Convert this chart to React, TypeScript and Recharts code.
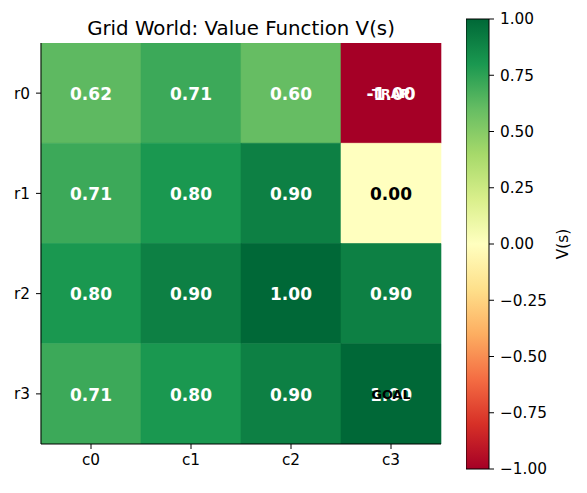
import { BarChart, Bar, XAxis, YAxis, Cell, LabelList } from "recharts";

const COLS = ["c0", "c1", "c2", "c3"];
const ROWS = ["r0", "r1", "r2", "r3"];

// value function per row (left to right = c0..c3)
const V_R0 = [0.62, 0.71, 0.6, -1.0];
const V_R1 = [0.71, 0.8, 0.9, 0.0];
const V_R2 = [0.8, 0.9, 1.0, 0.9];
const V_R3 = [0.71, 0.8, 0.9, 1.0];
const VALUES = [V_R0, V_R1, V_R2, V_R3];

// special cells: [row, col, text, colour]
const MARKERS = [
  { row: 0, col: 3, text: "TRAP", color: "#ffffff" },
  { row: 3, col: 3, text: "GOAL", color: "#000000" },
];

const CBAR_TICKS = [-1, -0.75, -0.5, -0.25, 0, 0.25, 0.5, 0.75, 1];

const RDYLGN = [
  "#a50026", "#d73027", "#f46d43", "#fdae61", "#fee08b", "#ffffbf",
  "#d9ef8b", "#a6d96a", "#66bd63", "#1a9850", "#006837",
];

const FONT = "'DejaVu Sans', sans-serif";

const hexToRgb = (h: string) => [1, 3, 5].map((i) => parseInt(h.slice(i, i + 2), 16));

const cmap = (v: number): string => {
  const t = Math.max(0, Math.min(1, (v + 1) / 2)) * (RDYLGN.length - 1);
  const i = Math.min(Math.floor(t), RDYLGN.length - 2);
  const f = t - i;
  const a = hexToRgb(RDYLGN[i]);
  const b = hexToRgb(RDYLGN[i + 1]);
  const c = a.map((x, k) => Math.round(x + (b[k] - x) * f));
  return `rgb(${c[0]},${c[1]},${c[2]})`;
};

const fmt = (v: number) => v.toFixed(2).replace("-", "\u2212");

// one entry per column, each row stacked as a unit-tall block
const gridData = COLS.map((col) => {
  const d: Record<string, string | number> = { col };
  ROWS.forEach((r) => (d[r] = 1));
  return d;
});

const cbarData = [{ name: "cbar", range: [-1, 1] }];

const cellLabel = (rowIdx: number) => (props: any) => {
  const { x, y, width, height, index } = props;
  const v = VALUES[rowIdx][index];
  const cx = x + width / 2;
  const cy = y + height / 2;
  const marker = MARKERS.find((m) => m.row === rowIdx && m.col === index);
  return (
    <g>
      <text x={cx} y={cy} dy="0.4em" textAnchor="middle" fill={Math.abs(v) > 0.5 ? "#fff" : "#000"}
        fontFamily={FONT} fontWeight="bold" fontSize={17}>
        {v.toFixed(2)}
      </text>
      {marker && (
        <text x={cx} y={cy} dy="0.4em" textAnchor="middle" fill={marker.color}
          fontFamily={FONT} fontWeight="bold" fontSize={12.8}>
          {marker.text}
        </text>
      )}
    </g>
  );
};

const tickStyle = { fill: "#000", fontSize: 15.3, fontFamily: FONT };

export default function App() {
  return (
    <div style={{ position: "absolute", left: 0, top: 0, width: 587, height: 493, background: "#fff" }}>
      <div style={{ position: "absolute", left: 0, top: 0 }}>
        <BarChart width={587} height={493} data={gridData}
          margin={{ top: 43, right: 146, left: 0, bottom: 0 }}
          barCategoryGap={0} barGap={0}>
          <XAxis dataKey="col" type="category" height={49} tick={tickStyle}
            tickLine={{ stroke: "#000" }} tickSize={5} tickMargin={5}
            axisLine={{ stroke: "#000" }} />
          <XAxis xAxisId="top" dataKey="col" orientation="top" height={0} tick={false}
            tickLine={false} axisLine={{ stroke: "#000" }} />
          <YAxis type="number" domain={[0, 4]} reversed width={41} ticks={[0.5, 1.5, 2.5, 3.5]}
            tickFormatter={(t: number) => ROWS[Math.floor(t)]} tick={tickStyle}
            tickLine={{ stroke: "#000" }} tickSize={5} tickMargin={6}
            axisLine={{ stroke: "#000" }} allowDataOverflow />
          <YAxis yAxisId="right" orientation="right" type="number" domain={[0, 4]} width={0}
            tick={false} tickLine={false} axisLine={{ stroke: "#000" }} />
          {ROWS.map((r, ri) => (
            <Bar key={r} dataKey={r} stackId="grid" isAnimationActive={false}>
              {COLS.map((c, ci) => (
                <Cell key={c} fill={cmap(VALUES[ri][ci])} stroke={cmap(VALUES[ri][ci])} strokeWidth={0.6} />
              ))}
              <LabelList dataKey={r} content={cellLabel(ri)} />
            </Bar>
          ))}
        </BarChart>
      </div>

      <div style={{ position: "absolute", left: 466, top: 0 }}>
        <BarChart width={121} height={493} data={cbarData}
          margin={{ top: 19, right: 0, left: 0, bottom: 24 }} barCategoryGap={0}>
          <defs>
            <linearGradient id="rdylgn" x1="0" y1="1" x2="0" y2="0">
              {RDYLGN.map((c, i) => (
                <stop key={i} offset={`${(i / (RDYLGN.length - 1)) * 100}%`} stopColor={c} />
              ))}
            </linearGradient>
          </defs>
          <XAxis dataKey="name" hide />
          <YAxis orientation="right" type="number" domain={[-1, 1]} ticks={CBAR_TICKS} width={98}
            tickFormatter={fmt} tick={tickStyle} tickLine={{ stroke: "#000" }} tickSize={5}
            tickMargin={6} axisLine={false} interval={0}
            label={{ value: "V(s)", angle: -90, position: "insideRight", offset: 24,
              style: { fill: "#000", fontSize: 15.3, fontFamily: FONT, textAnchor: "middle" } }} />
          <Bar dataKey="range" fill="url(#rdylgn)" stroke="#000" strokeWidth={1}
            isAnimationActive={false} />
        </BarChart>
      </div>

      <svg width={587} height={493} style={{ position: "absolute", left: 0, top: 0, pointerEvents: "none" }}>
        <text x={241} y={35} textAnchor="middle" fontFamily={FONT} fontSize={19.8} fill="#000">
          Grid World: Value Function V(s)
        </text>
      </svg>
    </div>
  );
}
